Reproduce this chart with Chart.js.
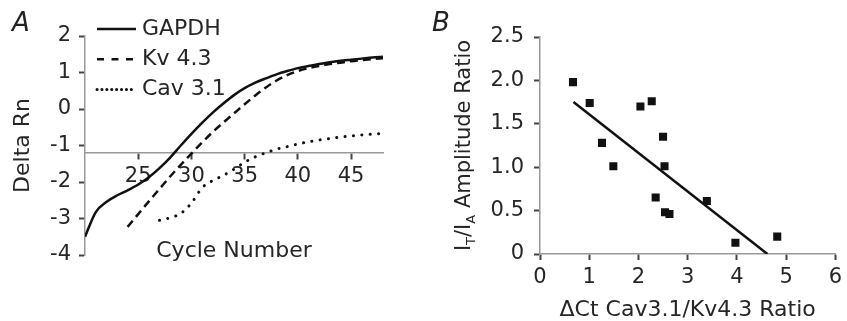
<!DOCTYPE html>
<html lang="en">
<head>
<meta charset="UTF-8">
<title>Delta Rn curves and I_T/I_A ratio</title>
<style>
  body { margin: 0; background: #fff; }
  .figure { position: relative; width: 847px; height: 321px; overflow: hidden; }
  .panel { position: absolute; top: 0; height: 321px; }
  #panelA { left: 0; width: 430px; }
  #panelB { left: 430px; width: 417px; }
  .tag { position: absolute; font: italic 26px 'DejaVu Sans', sans-serif; line-height: 26px; color: #222; }
</style>
<script src="https://cdn.jsdelivr.net/npm/chart.js"></script>
</head>
<body>

<div class="figure">
  <div class="panel" id="panelA"><canvas id="chartA"></canvas></div>
  <div class="panel" id="panelB"><canvas id="chartB"></canvas></div>
  <div class="tag" style="left:12px;top:9px">A</div>
  <div class="tag" style="left:432px;top:9px">B</div>
</div>

<script>
// panel A: amplification curves
const cycles = [20, 21, 22, 23, 24, 25, 26, 27, 28, 29, 30, 31, 32, 33, 34, 35, 36, 37, 38, 39, 40, 41, 42, 43, 44, 45, 46, 47, 48];
const gapdh = [-3.50, -2.83, -2.55, -2.37, -2.23, -2.07, -1.87, -1.62, -1.33, -1.00, -0.68, -0.38, -0.10, 0.15, 0.38,
  0.57, 0.72, 0.84, 0.95, 1.04, 1.12, 1.18, 1.23, 1.28, 1.32, 1.35, 1.38, 1.41, 1.43];
const kv43 = [null, null, null, null, -3.23, -2.88, -2.53, -2.19, -1.85, -1.53, -1.22, -0.92, -0.63, -0.37, -0.12,
  0.13, 0.37, 0.59, 0.78, 0.93, 1.04, 1.12, 1.18, 1.23, 1.27, 1.31, 1.34, 1.37, 1.39];
const cav31 = [null, null, null, null, null, null, null, -3.05, -2.98, -2.86, -2.58, -2.16, -1.96, -1.82, -1.65,
  -1.46, -1.31, -1.20, -1.10, -1.03, -0.96, -0.90, -0.85, -0.81, -0.77, -0.74, -0.71, -0.69, -0.67];
const cycleTicks = [25, 30, 35, 40, 45];
const threshold = -1.2;

// panel B: scatter + fit
const ctRatio = [0.67, 1.01, 1.26, 1.49, 2.04, 2.27, 2.50, 2.53, 2.35, 2.54, 2.63, 3.39, 3.97, 4.82];
const ampRatio = [1.98, 1.74, 1.28, 1.01, 1.70, 1.76, 1.35, 1.01, 0.65, 0.48, 0.46, 0.61, 0.13, 0.20];
const fitX = [0.68, 4.62];
const fitY = [1.75, 0];
const yTitleB = [['I', false], ['T', true], ['/I', false], ['A', true], [' Amplitude Ratio', false]];

const pts = (xs, ys) => xs.map((x, i) => ({ x: x, y: ys[i] }));

const TXT = '#262626';
const AXIS = '#999';
const TICK = '#444';
const tickFont = { family: 'DejaVu Sans', size: 21 };
const titleFont = { family: 'DejaVu Sans', size: 22, lineHeight: 1 };

// legend drawn inside plot area, one row per dataset
const lineKey = {
  id: 'lineKey',
  afterDraw(chart, args, opts) {
    const ctx = chart.ctx;
    ctx.save();
    ctx.font = opts.font;
    ctx.textBaseline = 'middle';
    chart.data.datasets.forEach((ds, i) => {
      const y = opts.top + i * opts.rowGap;
      ctx.beginPath();
      ctx.setLineDash(ds.keyDash || []);
      ctx.lineCap = ds.borderCapStyle || 'butt';
      ctx.lineWidth = ds.borderWidth;
      ctx.strokeStyle = ds.borderColor;
      ctx.moveTo(opts.x, y);
      ctx.lineTo(opts.x + opts.width, y);
      ctx.stroke();
      ctx.setLineDash([]);
      ctx.fillStyle = opts.color;
      ctx.fillText(ds.label, opts.x + opts.width + opts.gap, y);
    });
    ctx.restore();
  }
};

// rotated y title with subscripts
const subTitle = {
  id: 'subTitle',
  afterDraw(chart, args, opts) {
    const { ctx, chartArea } = chart;
    const main = '21px "DejaVu Sans"';
    const small = '13px "DejaVu Sans"';
    ctx.save();
    let total = 0;
    opts.parts.forEach(p => { ctx.font = p[1] ? small : main; total += ctx.measureText(p[0]).width; });
    ctx.translate(opts.x, (chartArea.top + chartArea.bottom) / 2);
    ctx.rotate(-Math.PI / 2);
    ctx.fillStyle = opts.color;
    ctx.textBaseline = 'alphabetic';
    let cx = -total / 2;
    opts.parts.forEach(p => {
      ctx.font = p[1] ? small : main;
      ctx.fillText(p[0], cx, p[1] ? 12.5 : 8);
      cx += ctx.measureText(p[0]).width;
    });
    ctx.restore();
  }
};

new Chart(document.getElementById('chartA'), {
  type: 'line',
  data: {
    datasets: [
      { label: 'GAPDH', data: pts(cycles, gapdh), borderColor: '#111', borderWidth: 2.5, keyDash: [] },
      { label: 'Kv 4.3', data: pts(cycles, kv43), borderColor: '#111', borderWidth: 2.5, borderDash: [8, 5], keyDash: [7, 7.5] },
      { label: 'Cav 3.1', data: pts(cycles, cav31), borderColor: '#111', borderWidth: 3, borderDash: [0.1, 8.3], borderCapStyle: 'round', keyDash: [0.1, 4.8] }
    ]
  },
  options: {
    responsive: true,
    maintainAspectRatio: false,
    animation: false,
    layout: { padding: { left: 0, top: 36, right: 47, bottom: 66 } },
    elements: { point: { radius: 0 }, line: { cubicInterpolationMode: 'monotone', fill: false } },
    plugins: {
      legend: { display: false },
      tooltip: { enabled: false },
      lineKey: { x: 97, width: 39, gap: 6, top: 29, rowGap: 30.3, font: '22px "DejaVu Sans"', color: TXT }
    },
    scales: {
      x: {
        type: 'linear', min: 20, max: 48,
        position: { y: threshold },
        afterBuildTicks: s => { s.ticks = cycleTicks.map(v => ({ value: v })); },
        grid: { drawOnChartArea: false, tickLength: 6, tickColor: TICK, tickWidth: 2 },
        border: { color: AXIS, width: 1.5 },
        ticks: { padding: 5, color: TXT, font: tickFont, maxRotation: 0 },
        title: { display: true, text: 'Cycle Number', color: TXT, font: titleFont, padding: { top: 48, bottom: 0 } }
      },
      y: {
        min: -4, max: 2,
        afterFit: s => { s.width = 85; },
        grid: { drawOnChartArea: false, tickLength: 6, tickColor: TICK, tickWidth: 2 },
        border: { color: AXIS, width: 1.5 },
        ticks: { stepSize: 1, padding: 8, color: TXT, font: tickFont },
        title: { display: true, text: 'Delta Rn', color: TXT, font: titleFont, padding: { top: 12, bottom: 0 } }
      }
    }
  },
  plugins: [lineKey]
});

new Chart(document.getElementById('chartB'), {
  type: 'scatter',
  data: {
    datasets: [
      { data: pts(ctRatio, ampRatio), pointStyle: 'rect', pointRadius: 5.7, backgroundColor: '#111', borderColor: '#111', borderWidth: 0 },
      { type: 'line', data: pts(fitX, fitY), borderColor: '#111', borderWidth: 2.5, pointRadius: 0, fill: false }
    ]
  },
  options: {
    responsive: true,
    maintainAspectRatio: false,
    animation: false,
    layout: { padding: { left: 0, top: 37, right: 10, bottom: 0 } },
    plugins: {
      legend: { display: false },
      tooltip: { enabled: false },
      subTitle: { x: 32, color: TXT, parts: yTitleB }
    },
    scales: {
      x: {
        type: 'linear', min: 0, max: 6,
        afterFit: s => { s.height = 67; },
        grid: { drawOnChartArea: false, tickLength: 6, tickColor: TICK, tickWidth: 2 },
        border: { color: AXIS, width: 1.5 },
        ticks: { stepSize: 1, padding: 5, color: TXT, font: tickFont, maxRotation: 0 },
        title: { display: true, text: 'ΔCt Cav3.1/Kv4.3 Ratio', color: TXT, font: titleFont, padding: 0 }
      },
      y: {
        min: 0, max: 2.5,
        afterFit: s => { s.width = 110; },
        grid: { drawOnChartArea: false, tickLength: 6, tickColor: TICK, tickWidth: 2 },
        border: { color: AXIS, width: 1.5 },
        ticks: { stepSize: 0.5, padding: 10, color: TXT, font: tickFont, callback: v => v === 0 ? '0' : v.toFixed(1) }
      }
    }
  },
  plugins: [subTitle]
});
</script>

</body>
</html>
